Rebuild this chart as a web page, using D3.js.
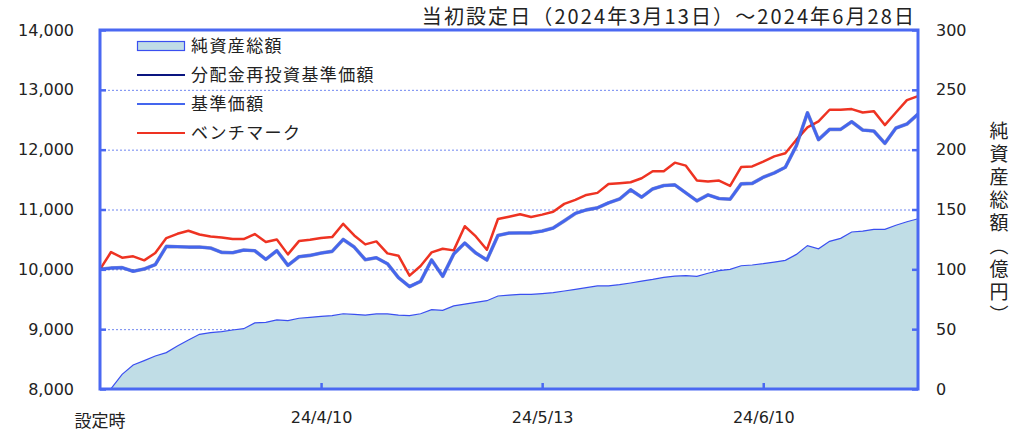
<!DOCTYPE html>
<html>
<head>
<meta charset="utf-8">
<script src="https://cdn.jsdelivr.net/npm/d3@7"></script>
<style>
  body { margin: 0; background: #fff; }
  svg { display: block; }
  .num { font-family: "DejaVu Sans", Verdana, sans-serif; font-size: 16px; fill: #222; }
  .jp { font-family: "Noto Sans CJK JP", sans-serif; fill: #222; }
</style>
</head>
<body>
<div id="chart"></div>
<script>
// trading days per month (2024)
var marDays = [13, 14, 15, 18, 19, 21, 22, 25, 26, 27, 28, 29];
var aprDays = [1, 2, 3, 4, 5, 8, 9, 10, 11, 12, 15, 16, 17, 18, 19, 22, 23, 24, 25, 26, 30];
var mayDays = [1, 2, 7, 8, 9, 10, 13, 14, 15, 16, 17, 20, 21, 22, 23, 24, 27, 28, 29, 30, 31];
var junDays = [3, 4, 5, 6, 7, 10, 11, 12, 13, 14, 17, 18, 19, 20, 21, 24, 25, 26, 27, 28];

// 基準価額
var navValues = [
  10000, 10022, 10028, 9967, 10006, 10078, 10383, 10378, 10372, 10372,
  10356, 10283, 10278, 10322, 10311, 10167, 10311, 10067, 10211, 10233,
  10272, 10300, 10500, 10372, 10161, 10194, 10094, 9861, 9711, 9800,
  10156, 9883, 10256, 10439, 10272, 10156, 10567, 10606, 10608, 10610,
  10640, 10690, 10810, 10935, 10994, 11028, 11111, 11175, 11330, 11206,
  11344, 11400, 11411, 11278, 11144, 11244, 11183, 11172, 11428, 11436,
  11539, 11611, 11706, 12067, 12617, 12167, 12339, 12339, 12467, 12328,
  12311, 12106, 12361, 12428, 12594
];
// 分配金再投資基準価額 (no distribution, same as 基準価額)
var navReinvValues = navValues.slice();

// ベンチマーク
var benchValues = [
  10000, 10289, 10194, 10217, 10150, 10272, 10522, 10594, 10645, 10583,
  10550, 10533, 10506, 10506, 10589, 10456, 10500, 10250, 10472, 10494,
  10522, 10539, 10761, 10567, 10417, 10467, 10267, 10228, 9894, 10056,
  10283, 10344, 10317, 10720, 10550, 10328, 10842, 10880, 10922, 10875,
  10914, 10962, 11094, 11161, 11244, 11278, 11425, 11439, 11456, 11522,
  11639, 11639, 11783, 11733, 11483, 11467, 11483, 11394, 11710, 11720,
  11800, 11888, 11939, 12167, 12372, 12472, 12667, 12667, 12678, 12622,
  12644, 12411, 12622, 12828, 12894
];

// 純資産総額（億円）
var assetValues = [
  null, 0.3, 12.2, 20.0, 23.7, 27.6, 30.4, 35.9, 40.9, 45.7,
  47.1, 47.9, 49.3, 50.4, 55.2, 55.7, 57.7, 57.1, 59.1, 59.9,
  60.7, 61.3, 62.9, 62.4, 61.8, 62.7, 62.7, 61.8, 61.3, 62.9,
  66.3, 65.7, 69.4, 71.0, 72.4, 73.8, 77.7, 78.5, 79.1, 79.1,
  79.7, 80.5, 81.9, 83.3, 84.7, 86.1, 86.1, 87.2, 88.6, 90.2,
  91.6, 93.3, 94.4, 94.7, 94.1, 96.7, 98.9, 100.0, 103.0, 103.6,
  104.7, 106.1, 107.5, 112.5, 119.8, 117.2, 123.4, 125.9, 131.2, 132.0,
  133.4, 133.4, 136.8, 139.8, 142.3
];

var leftTicks = [8000, 9000, 10000, 11000, 12000, 13000, 14000];
var rightTicks = [0, 50, 100, 150, 200, 250, 300];
var xTickLabels = ["24/4/10", "24/5/13", "24/6/10"];
var firstLabel = "設定時";
var titleText = "当初設定日（2024年3月13日）～2024年6月28日";
var rightTitle = "純資産総額（億円）";
var legendNames = ["純資産総額", "分配金再投資基準価額", "基準価額", "ベンチマーク"];

// build categories
var categories = [firstLabel];
[[3, marDays], [4, aprDays], [5, mayDays], [6, junDays]].forEach(function(m) {
  m[1].forEach(function(d) { categories.push("24/" + m[0] + "/" + d); });
});

var svgWidth = 1024, svgHeight = 447;
var margin = { top: 30, bottom: 58, left: 100, right: 106 };
var width = svgWidth - margin.left - margin.right;
var height = svgHeight - margin.top - margin.bottom;

var axisColor = "#4a68f2";
var gridColor = "#6f86f0";
var navColor = "#4466ee";
var reinvColor = "#0a1580";
var benchColor = "#ee3322";
var areaFill = "#c0dde6";
var areaStroke = "#3a4ff0";

var svg = d3.select("#chart").append("svg")
  .attr("width", svgWidth)
  .attr("height", svgHeight);

var chartGroup = svg.append("g")
  .attr("transform", `translate(${margin.left}, ${margin.top})`);

var xScale = d3.scalePoint().domain(categories).range([0, width]);
var yLeft = d3.scaleLinear().domain([8000, 14000]).range([height, 0]);
var yRight = d3.scaleLinear().domain([0, 300]).range([height, 0]);

// gridlines
chartGroup.append("g")
  .selectAll("line")
  .data(leftTicks.filter(function(t) { return t > 8000 && t < 14000; }))
  .enter()
  .append("line")
  .attr("x1", 0)
  .attr("x2", width)
  .attr("y1", d => yLeft(d) + 0.5)
  .attr("y2", d => yLeft(d) + 0.5)
  .attr("stroke", gridColor)
  .attr("stroke-width", 1)
  .attr("stroke-dasharray", "2,2");

// net assets area
var area = d3.area()
  .defined(d => d != null)
  .x((d, i) => xScale(categories[i]))
  .y0(height)
  .y1(d => yRight(d));

var areaLine = d3.line()
  .defined(d => d != null)
  .x((d, i) => xScale(categories[i]))
  .y(d => yRight(d));

chartGroup.append("path")
  .datum(assetValues)
  .attr("d", area)
  .attr("fill", areaFill);

chartGroup.append("path")
  .datum(assetValues)
  .attr("d", areaLine)
  .attr("fill", "none")
  .attr("stroke", areaStroke)
  .attr("stroke-width", 1.2);

// lines
var navLine = d3.line()
  .x((d, i) => xScale(categories[i]))
  .y(d => yLeft(d));

chartGroup.append("path")
  .datum(benchValues)
  .attr("d", navLine)
  .attr("fill", "none")
  .attr("stroke", benchColor)
  .attr("stroke-width", 2.5)
  .attr("stroke-linejoin", "round");

chartGroup.append("path")
  .datum(navReinvValues)
  .attr("d", navLine)
  .attr("fill", "none")
  .attr("stroke", reinvColor)
  .attr("stroke-opacity", 0.45)
  .attr("stroke-width", 3.6)
  .attr("stroke-linejoin", "round");

chartGroup.append("path")
  .datum(navValues)
  .attr("d", navLine)
  .attr("fill", "none")
  .attr("stroke", navColor)
  .attr("stroke-width", 2.8)
  .attr("stroke-linejoin", "round");

// axes
var leftAxis = d3.axisLeft(yLeft)
  .tickValues(leftTicks)
  .tickFormat(d3.format(","))
  .tickSize(-6)
  .tickPadding(26);

var rightAxis = d3.axisRight(yRight)
  .tickValues(rightTicks)
  .tickSize(-6)
  .tickPadding(18);

var bottomAxis = d3.axisBottom(xScale)
  .tickValues(xTickLabels)
  .tickSize(-6)
  .tickPadding(22);

var gLeft = chartGroup.append("g").call(leftAxis);
var gRight = chartGroup.append("g")
  .attr("transform", `translate(${width}, 0)`)
  .call(rightAxis);
var gBottom = chartGroup.append("g")
  .attr("transform", `translate(0, ${height})`)
  .call(bottomAxis);

[gLeft, gRight, gBottom].forEach(function(g) {
  g.select(".domain").remove();
  g.selectAll(".tick line")
    .attr("stroke", axisColor)
    .attr("stroke-width", 2.5);
  g.selectAll(".tick text")
    .attr("class", "num")
    .attr("fill", "#222");
});
gRight.selectAll(".tick line").attr("x2", -6);
gBottom.selectAll(".tick text").attr("dy", "0.71em").attr("y", 23);

// frame
chartGroup.append("rect")
  .attr("x", 0)
  .attr("y", 0)
  .attr("width", width)
  .attr("height", height)
  .attr("fill", "none")
  .attr("stroke", axisColor)
  .attr("stroke-width", 3);

// first x label
chartGroup.append("text")
  .attr("class", "jp")
  .attr("x", 0)
  .attr("y", height + 38)
  .attr("text-anchor", "middle")
  .attr("font-size", "17px")
  .text(firstLabel);

// title
svg.append("text")
  .attr("class", "jp")
  .attr("x", 916)
  .attr("y", 24)
  .attr("text-anchor", "end")
  .attr("font-size", "20px")
  .attr("letter-spacing", "2.1px")
  .text(titleText);

// right axis title (vertical)
svg.append("text")
  .attr("class", "jp")
  .attr("x", 999)
  .attr("y", 121)
  .attr("font-size", "19px")
  .attr("letter-spacing", "4px")
  .style("writing-mode", "vertical-rl")
  .text(rightTitle);

// legend
var legend = chartGroup.append("g")
  .attr("transform", "translate(37, 16)");

legendNames.forEach(function(name, i) {
  var row = legend.append("g").attr("transform", `translate(0, ${i * 29})`);
  if (i === 0) {
    row.append("rect")
      .attr("x", 0.5)
      .attr("y", -4.5)
      .attr("width", 47)
      .attr("height", 9)
      .attr("fill", areaFill)
      .attr("stroke", areaStroke)
      .attr("stroke-width", 1.2);
  } else {
    row.append("line")
      .attr("x1", 0)
      .attr("x2", 48)
      .attr("y1", 0)
      .attr("y2", 0)
      .attr("stroke", [null, reinvColor, navColor, benchColor][i])
      .attr("stroke-width", 2.2);
  }
  row.append("text")
    .attr("class", "jp")
    .attr("x", 54)
    .attr("y", 0)
    .attr("dy", "0.36em")
    .attr("font-size", "17px")
    .attr("letter-spacing", "1.4px")
    .text(name);
});
</script>
</body>
</html>
